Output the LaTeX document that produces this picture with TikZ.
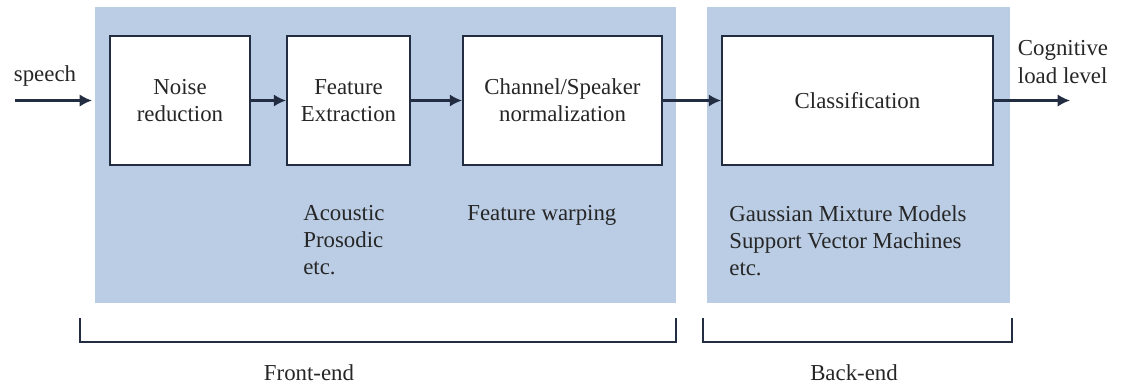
\documentclass[tikz,border=0pt]{standalone}
\usepackage{fontspec}
\setmainfont{Liberation Serif}
\usetikzlibrary{arrows.meta}
\definecolor{panelblue}{RGB}{186,205,228}
\definecolor{boxline}{RGB}{35,45,65}
\begin{document}
\begin{tikzpicture}[x=0.02cm, y=-0.02cm,
    every node/.style={font=\fontsize{13}{15.5}\selectfont, text=black!85},
    stage/.style={draw=boxline, line width=1.1pt, fill=white, minimum height=2.58cm, align=center},
    flow/.style={draw=boxline, line width=1.2pt, -{Latex[length=7pt,width=7pt]}},
    note/.style={anchor=north west, align=left, inner sep=0pt}]
    \useasboundingbox (0,0) rectangle (1124,390);

    % Shaded front-end and back-end areas
    \fill[panelblue] (95,7) rectangle (676,303);
    \fill[panelblue] (707,7) rectangle (1010,303);

    % Processing stages
    \node[stage, minimum width=2.8cm] (noise) at (180,100.5) {Noise\\reduction};
    \node[stage, minimum width=2.46cm] (feat) at (348.5,100.5) {Feature\\Extraction};
    \node[stage, minimum width=3.98cm] (chan) at (562.5,100.5) {Channel/Speaker\\normalization};
    \node[stage, minimum width=5.42cm] (class) at (857.5,100.5) {Classification};

    % Input and output
    \coordinate (in) at (15,100.5);
    \coordinate (inend) at (92,100.5);
    \coordinate (out) at (1070,100.5);
    \node (speech) at (45,76) {speech};
    \node[align=left] (level) at (1063,62) {Cognitive\\load level};

    \draw[flow] (in) -- (inend);
    \draw[flow] (noise) -- (feat);
    \draw[flow] (feat) -- (chan);
    \draw[flow] (chan) -- (class);
    \draw[flow] (class) -- (out);

    % Methods under each stage
    \node[note] (acoustic) at (303,205) {Acoustic\\Prosodic\\etc.};
    \node[note] (warping) at (467,205) {Feature warping};
    \node[note] (models) at (729,205) {Gaussian Mixture Models\\Support Vector Machines\\etc.};

    % Brackets
    \draw[boxline, line width=0.8pt] (80,318) -- (80,342) -- (676,342) -- (676,318);
    \draw[boxline, line width=0.8pt] (703,318) -- (703,342) -- (1012,342) -- (1012,318);
    \node (front) at (309,373) {Front-end};
    \node (back) at (854,373) {Back-end};
\end{tikzpicture}
\end{document}
